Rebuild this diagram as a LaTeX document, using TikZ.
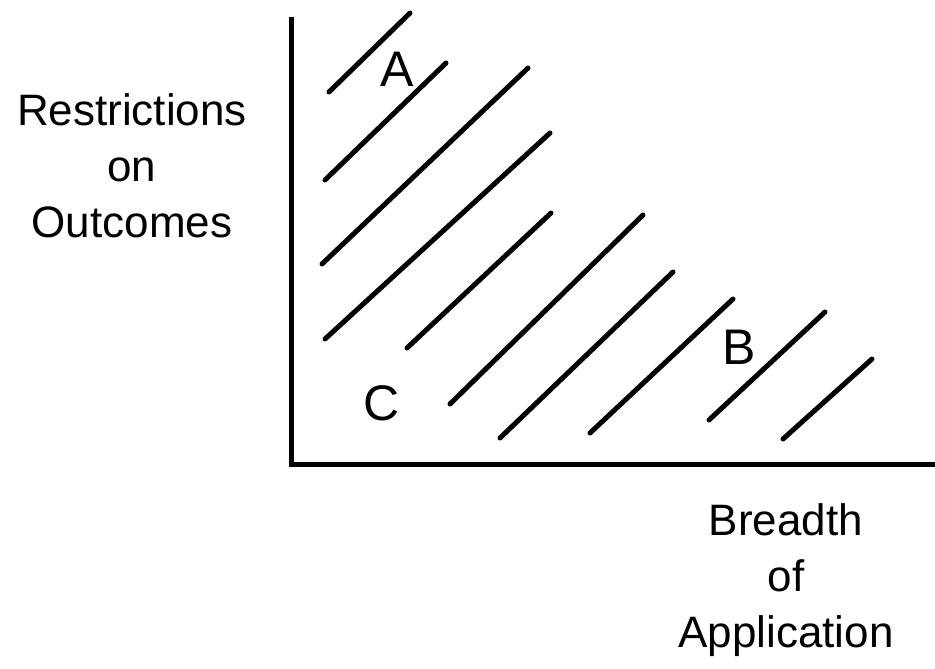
\documentclass[tikz,border=0pt]{standalone}
\usepackage{fontspec}
\setmainfont{Liberation Sans}
\usetikzlibrary{positioning}

\begin{document}
\begin{tikzpicture}[
  x=1pt, y=-1pt,
  axis/.style={line width=5pt},
  hatch/.style={line width=5pt, line cap=round},
  axislabel/.style={align=center, inner sep=0pt, font=\fontsize{44}{56}\selectfont},
  region/.style={inner sep=0pt, font=\fontsize{50}{60}\selectfont},
]
\useasboundingbox (0,0) rectangle (935,669);

% Axes
\coordinate (origin) at (291,464);
\coordinate (ytop) at (291,17);
\coordinate (xend) at (935,464);
\draw[axis] (ytop) -- (origin) -- (xend);

% Axis labels
\node[axislabel, anchor=north] (ylabel) at (132,93) {Restrictions\\on\\Outcomes};
\node[axislabel, anchor=north] (xlabel) at (786,503) {Breadth\\of\\Application};

% Hatching
\draw[hatch] (329,92) -- (410,13);
\draw[hatch] (325,180) -- (446,63);
\draw[hatch] (322,264) -- (528,68);
\draw[hatch] (325,339) -- (550,133);
\draw[hatch] (407,348) -- (551,213);
\draw[hatch] (450,404) -- (643,215);
\draw[hatch] (500,438) -- (673,272);
\draw[hatch] (590,433) -- (733,299);
\draw[hatch] (709,420) -- (825,312);
\draw[hatch] (783,439) -- (872,359);

% Regions
\node[region] (a) at (397,69) {A};
\node[region] (b) at (739,347) {B};
\node[region] (c) at (382,403) {C};

\end{tikzpicture}
\end{document}
